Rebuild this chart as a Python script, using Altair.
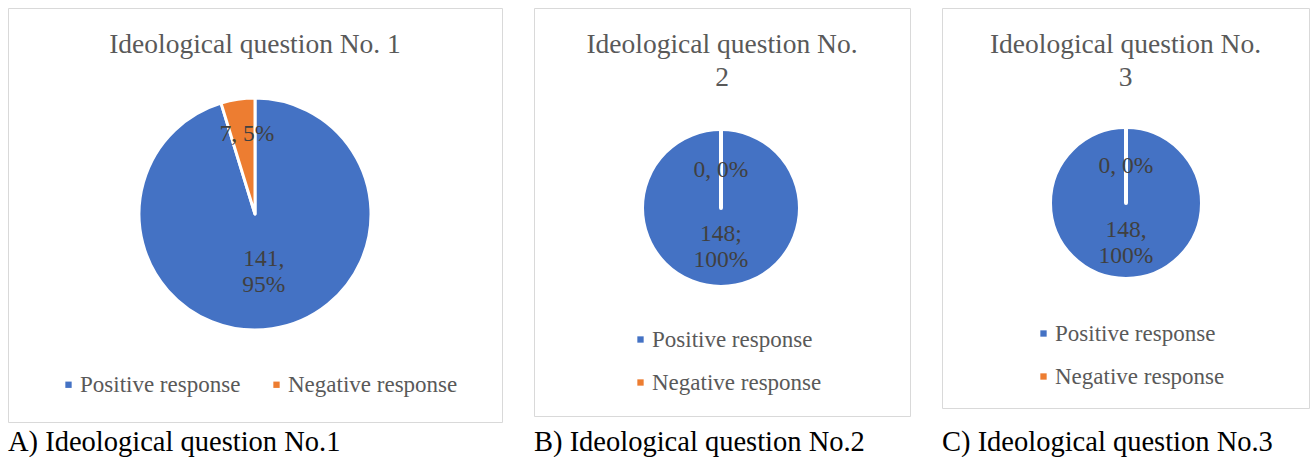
import altair as alt
import pandas as pd

# Survey answers for the three ideological questions
categories = ["Positive response", "Negative response"]
colors = ["#4472C4", "#ED7D31"]

q1_counts = [141, 7]
q1_labels = ["141,\n95%", "7, 5%"]
q2_counts = [148, 0]
q2_labels = ["148;\n100%", "0, 0%"]
q3_counts = [148, 0]
q3_labels = ["148,\n100%", "0, 0%"]

titles = ["Ideological question No. 1",
          "Ideological question No.\n2",
          "Ideological question No.\n3"]
captions = ["A) Ideological question No.1",
            "B) Ideological question No.2",
            "C) Ideological question No.3"]

FONT = "Liberation Serif"
GREY = "#595959"
LABEL_LINE = 26


def panel(counts, labels, title, caption, w, h, cx, cy, r, stroke_w,
          label_r, label_dx, legend_dir, legend_x, legend_y, cap_offset):
    df = pd.DataFrame({
        "response": categories,
        "count": counts,
        "label": labels,
        "rank": list(range(len(categories))),
        "title": [title] * len(categories),
    })
    base = alt.Chart(df)

    legend = alt.Legend(
        title=None, orient="none", direction=legend_dir,
        legendX=legend_x, legendY=legend_y, padding=0,
        symbolType="square", symbolSize=40, symbolStrokeWidth=0,
        labelFont=FONT, labelFontSize=23, labelColor=GREY,
        labelOffset=0, columnPadding=24, rowPadding=19,
        labelLimit=400,
    )
    pie = base.mark_arc(radius=r, stroke="white", strokeWidth=stroke_w,
                        strokeJoin="round").encode(
        theta=alt.Theta("count:Q", stack=True),
        order=alt.Order("rank:Q"),
        color=alt.Color("response:N",
                        scale=alt.Scale(domain=categories, range=colors),
                        legend=legend),
        x=alt.value(cx), y=alt.value(cy),
    )

    # slice labels sit at the middle angle of their slice
    text_layers = []
    for i, lr in enumerate(label_r):
        n_lines = labels[i].count("\n") + 1
        text_layers.append(
            base.transform_stack(stack="count", groupby=[],
                                 as_=["t0", "t1"],
                                 sort=[alt.SortField("rank", order="ascending")])
            .transform_calculate(mid="(datum.t0 + datum.t1) / 2")
            .transform_filter(alt.datum.rank == i)
            .mark_text(radius=lr, font=FONT, fontSize=23.5, color="#404040",
                       lineBreak="\n", align="center", baseline="middle",
                       lineHeight=LABEL_LINE, dx=label_dx[i],
                       dy=-(n_lines - 1) * LABEL_LINE / 2)
            .encode(theta=alt.Theta("mid:Q", stack=None), text="label:N",
                    x=alt.value(cx), y=alt.value(cy))
        )

    head = alt.Chart(df.head(1)).mark_text(
        font=FONT, fontSize=27.5, color=GREY, lineBreak="\n",
        align="center", baseline="top", lineHeight=33,
    ).encode(text="title:N", x=alt.value(w / 2), y=alt.value(23))

    return alt.layer(pie, *text_layers, head).properties(
        width=w, height=h,
        title=alt.TitleParams(caption, orient="bottom", anchor="start",
                              font=FONT, fontSize=28.5, fontWeight="normal",
                              color="#000000", offset=cap_offset,
                              baseline="middle"),
    )


a = panel(q1_counts, q1_labels, titles[0], captions[0],
          494, 414, 247, 206, 116, 3, [59, 81], [0, 4],
          "horizontal", 49, 365, 20)
b = panel(q2_counts, q2_labels, titles[1], captions[1],
          376, 408, 187, 200, 79, 4, [39, 38], [0, 0],
          "vertical", 95, 320, 26)
c = panel(q3_counts, q3_labels, titles[2], captions[2],
          367, 400, 184, 195, 76, 4, [40, 37], [0, 0],
          "vertical", 90, 314, 34)

chart = (
    alt.hconcat(a, b, c, spacing=30)
    .resolve_scale(color="shared")
    .resolve_legend(color="independent")
    .properties(padding={"left": 7, "top": 7, "right": 0, "bottom": 0},
                background="white")
    .configure_view(stroke="#D9D9D9", strokeWidth=1)
    .configure_concat(spacing=30)
)

chart.save("out.html", embed_options={"renderer": "svg", "actions": False})
